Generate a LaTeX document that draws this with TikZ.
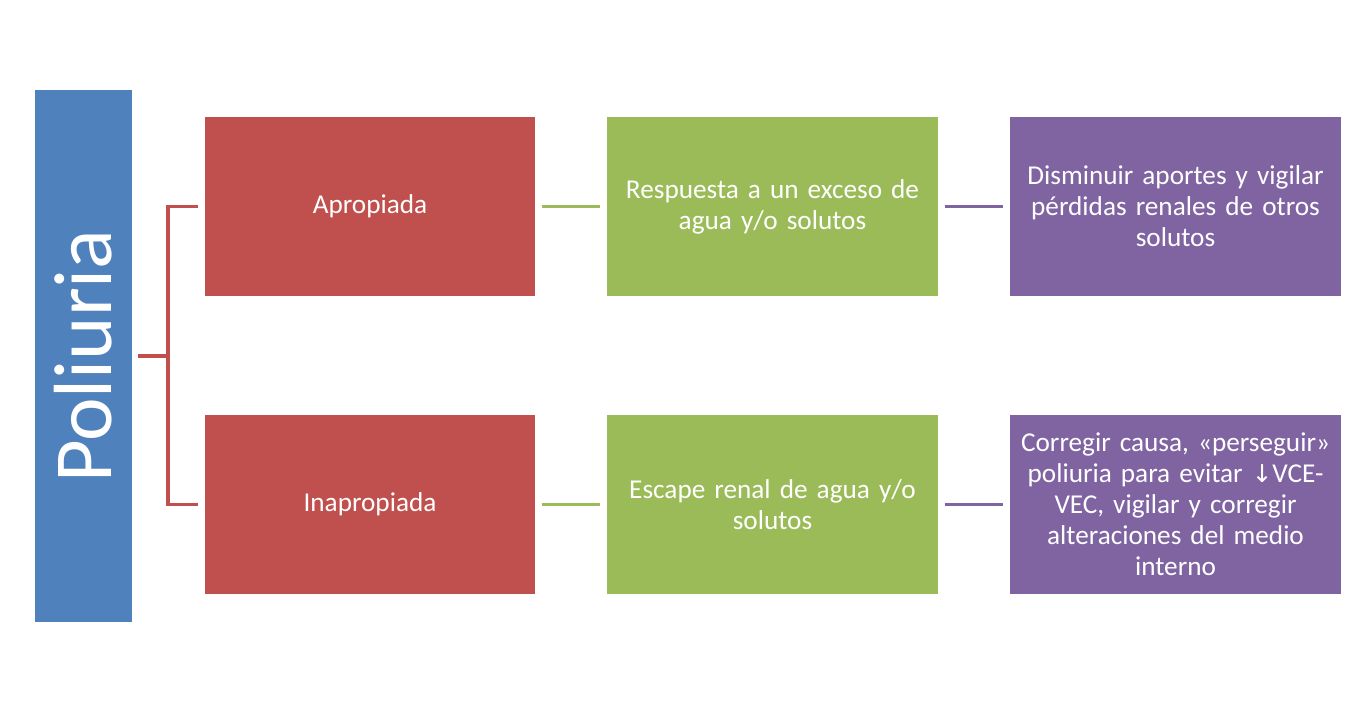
\documentclass[tikz,border=0pt]{standalone}
\usepackage{fontspec}
\setmainfont{Carlito}
\newfontfamily\arrowfont{DejaVu Sans}
\usepackage{tikz}
\usetikzlibrary{positioning}
\definecolor{polblue}{HTML}{4F81BD}
\definecolor{redbox}{HTML}{C0504D}
\definecolor{greenbox}{HTML}{9BBB59}
\definecolor{purplebox}{HTML}{8064A2}

\begin{document}
\begin{tikzpicture}[x=0.02cm,y=-0.02cm,line width=2pt]
    \tikzstyle{box}=[shape=rectangle, minimum width=6.62cm, minimum height=3.58cm, inner sep=0pt,
        text=white, text width=6.3cm, align=center, font=\fontsize{15.5}{17.6}\selectfont]
    \useasboundingbox (0,0) rectangle (1359,712);
    \node [fill=polblue, minimum width=1.94cm, minimum height=10.64cm, inner sep=0pt] (pol) at (83.5,356)
        {\rotatebox{90}{\textcolor{white}{\fontsize{47}{52}\selectfont Poliuria}}};
	\node [box, fill=redbox] (apr) at (370,206.5) {Apropiada};
	\node [box, fill=redbox] (inap) at (370,504.5) {Inapropiada};
	\node [box, fill=greenbox] (resp) at (772.5,206.5) {Respuesta a un exceso de\\ agua y/o solutos};
	\node [box, fill=greenbox] (esc) at (772.5,504.5) {Escape renal de agua y/o\\ solutos};
	\node [box, fill=purplebox] (dism) at (1175.5,206.5) {Disminuir aportes y vigilar\\ pérdidas renales de otros\\ solutos};
	\node [box, fill=purplebox] (corr) at (1175.5,504.5)
	{Corregir causa, «perseguir»\\ poliuria para evitar {\arrowfont\fontsize{14}{17.6}\selectfont ↓}VCE-\\ VEC, vigilar y corregir\\ alteraciones del medio\\ interno};
	\coordinate (fork) at (168,356);
	\draw [redbox, shorten <=0.08cm] (pol.east |- fork) -- (fork);
	\draw [redbox, shorten >=0.1cm] (fork) |- (apr.west);
	\draw [redbox, shorten >=0.1cm] (fork) |- (inap.west);
	\draw [greenbox, shorten <=0.1cm, shorten >=0.1cm] (apr) -- (resp);
	\draw [greenbox, shorten <=0.1cm, shorten >=0.1cm] (inap) -- (esc);
	\draw [purplebox, shorten <=0.1cm, shorten >=0.1cm] (resp) -- (dism);
	\draw [purplebox, shorten <=0.1cm, shorten >=0.1cm] (esc) -- (corr);
\end{tikzpicture}
\end{document}
